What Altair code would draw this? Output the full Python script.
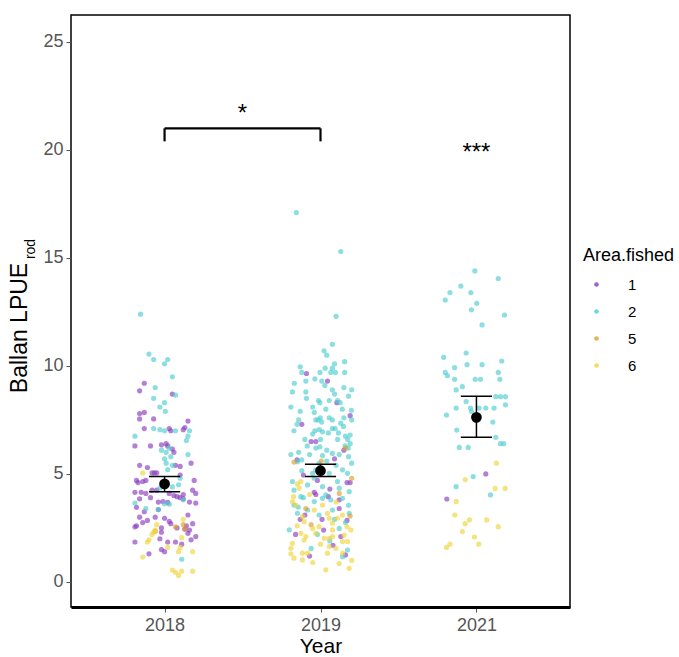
import altair as alt
import pandas as pd

years = ["2018", "2019", "2021"]
areas = ["1", "2", "5", "6"]
area_colors = ["#8a3cc0", "#4ecdd0", "#dca030", "#f0d43c"]

# (jitter, value) pairs, per year and area
y2018_a1 = [(-0.13,9.2),(-0.16,8.85),(0.05,8.7),(-0.16,7.8),(-0.13,7.85),(-0.16,7.55),(-0.07,7.55),(0.15,7.45),
            (-0.13,7.1),(0.03,7.1),(0.04,7.0),(0.12,7.05),(0.13,7.15),(-0.09,6.3),(-0.19,6.3),(-0.02,6.35),(0.01,6.4),
            (0.02,6.3),(0.05,6.15),(0.06,6.0),(0.17,5.5),(-0.16,5.4),(-0.11,5.3),(0.07,5.4),(0.1,5.35),(-0.08,5.05),
            (-0.065,5.05),(-0.05,5.05),(0.1,4.95),(-0.18,4.7),(-0.17,4.6),(-0.14,4.65),(-0.12,4.7),(0.19,4.7),(-0.19,4.15),
            (-0.15,4.15),(-0.12,4.1),(-0.08,4.25),(-0.05,4.25),(0.18,4.25),(0.2,4.1),(0.03,4.1),(0.06,4.0),(0.08,3.95),
            (0.1,3.9),(0.12,4.05),(-0.16,3.85),(-0.18,3.45),(-0.04,3.7),(-0.01,3.72),(0.02,3.68),(0.16,3.7),(0.2,3.65),
            (0.12,3.85),(-0.04,3.35),(-0.13,3.25),(-0.16,3.0),(-0.06,3.0),(0.0,2.95),(0.15,3.1),(-0.19,2.55),(-0.18,2.6),
            (-0.14,2.75),(-0.11,2.85),(-0.02,2.5),(-0.02,2.3),(0.03,2.8),(0.04,2.7),(0.08,2.5),(0.13,2.45),(0.14,2.6),
            (0.16,2.4),(0.18,2.7),(-0.03,2.0),(-0.19,1.85),(0.02,1.85),(0.07,1.85),(0.17,1.95),(0.2,2.1),(-0.02,1.5),
            (0.0,1.4),(-0.1,1.3),(0.11,1.75),(-0.09,3.9),(0.15,2.25)]
y2018_a2 = [(-0.154,12.4),(-0.1,10.55),(-0.07,10.3),(0.0,10.1),(0.02,10.3),(0.05,9.5),(-0.06,9.0),(0.07,8.65),
            (-0.07,8.5),(0.0,8.3),(-0.03,8.1),(0.005,7.9),(-0.07,7.1),(-0.03,7.05),(0.0,7.0),(0.07,7.0),(0.16,7.0),
            (-0.19,6.75),(0.15,6.75),(0.14,6.55),(0.03,6.2),(-0.02,6.1),(0.01,6.0),(0.04,5.8),(0.0,5.7),(0.01,5.5),
            (0.05,5.4),(0.1,4.8),(-0.03,4.35),(-0.19,3.65),(0.03,3.6),(0.0,3.62),(-0.04,3.35),(0.11,1.05),(0.09,4.5),
            (0.12,3.8),(-0.12,3.4),(0.05,4.4),(0.02,5.2),(0.15,5.9)]
y2018_a5 = [(0.07,2.55),(0.12,2.65),(0.13,2.45),(-0.06,2.35)]
y2018_a6 = [(-0.14,5.05),(-0.06,2.4),(-0.07,2.3),(-0.08,2.2),(-0.1,1.95),(-0.11,1.85),(0.11,2.05),(0.02,1.6),
            (0.1,1.6),(0.09,1.4),(0.18,1.4),(-0.14,1.15),(0.05,0.55),(0.07,0.45),(0.09,0.3),(0.11,0.5),(0.18,0.5),
            (0.12,2.9),(-0.05,2.65)]

y2019_a1 = [(-0.09,9.65),(0.045,9.3),(0.105,8.3),(-0.12,7.3),(0.19,7.7),(-0.06,6.5),(-0.03,6.5),(-0.15,5.65),
            (-0.11,4.95),(0.19,4.6),(0.17,4.6),(-0.04,4.15),(-0.03,4.05),(0.05,3.95),(0.12,3.8),(-0.13,2.9),(0.01,2.9),
            (0.12,3.4),(0.17,2.85),(-0.16,2.2),(0.08,1.7),(0.16,1.25),(0.13,2.1),(0.06,4.3),(-0.1,3.1),(0.02,2.4),
            (-0.07,1.2),(0.09,5.7),(0.15,6.1),(-0.02,4.7)]
y2019_a2 = [(-0.155,17.1),(0.13,15.3),(0.1,12.3),(0.076,11.0),(0.023,10.7),(0.04,10.5),(-0.13,9.96),(0.155,10.2),
            (0.09,10.1),(0.076,9.9),(0.096,9.7),(0.066,9.7),(-0.003,9.7),(-0.036,9.4),(0.008,9.3),(-0.168,9.2),
            (0.028,9.1),(-0.094,9.3),(0.155,9.7),(0.15,9.0),(-0.18,8.8),(-0.094,8.8),(0.076,8.9),(0.09,8.7),(0.18,8.6),
            (0.11,8.4),(-0.09,8.5),(-0.013,8.4),(-0.004,8.3),(0.056,8.4),(0.126,8.3),(0.034,8.0),(-0.13,7.9),(0.198,7.95),
            (-0.04,7.85),(-0.002,7.6),(-0.14,7.5),(-0.15,7.3),(-0.03,7.5),(-0.015,7.5),(0.008,7.4),(0.056,7.6),
            (0.076,7.5),(0.13,7.35),(0.15,7.6),(0.2,7.5),(-0.05,6.85),(-0.036,7.0),(-0.008,7.05),(0.013,6.95),
            (0.05,6.9),(0.076,7.1),(0.094,7.1),(0.115,6.9),(0.147,7.2),(0.16,6.75),(0.19,6.8),(0.175,6.6),(-0.085,6.3),
            (-0.03,6.2),(-0.004,6.25),(0.013,5.85),(0.04,6.1),(0.076,5.95),(0.12,5.9),(0.158,6.3),(0.178,6.2),
            (-0.12,5.65),(-0.19,8.1),(-0.17,7.0),(-0.1,6.6),(0.0,6.6),(0.19,6.4),(-0.14,6.0),(0.2,8.9),(-0.05,8.1),
            (0.14,8.0),(-0.12,9.7),(0.03,9.9),(0.18,5.8),(-0.19,5.9),(-0.07,5.9),(0.11,6.6),
            (-0.148,5.57),(-0.009,5.49),(-0.03,5.19),(0.056,5.03),(0.141,5.19),(0.173,5.03),(-0.18,4.65),(-0.04,4.8),
            (-0.083,4.49),(0.013,4.41),(0.109,4.65),(0.184,4.18),(-0.126,3.95),(-0.04,3.72),(0.013,3.87),(0.066,3.8),
            (0.141,3.87),(-0.17,3.56),(-0.143,3.46),(-0.083,3.33),(0.077,3.33),(0.184,3.18),(-0.2,2.41),(0.12,2.48),
            (0.173,1.48),(0.141,1.17),(-0.148,3.18),(0.034,4.03),(-0.009,3.1),(0.12,4.34),(-0.051,5.03),(-0.11,3.9),
            (0.09,2.9),(-0.02,2.2),(0.16,2.75),(-0.17,4.25),(0.04,5.6),(0.10,5.4),(-0.12,5.15),(0.2,5.5),(0.06,1.9),
            (-0.06,1.55),(0.18,3.55)]
y2019_a5 = [(-0.17,5.55),(0.005,5.6),(0.16,6.2),(0.2,4.8),(-0.094,3.4),(0.12,4.1),(-0.06,2.65),(0.19,3.05)]
y2019_a6 = [(-0.148,4.54),(-0.126,4.65),(-0.137,4.34),(-0.173,3.95),(-0.18,3.72),(-0.158,3.56),(-0.116,3.02),
            (-0.105,2.79),(-0.126,2.25),(-0.094,2.1),(-0.105,1.94),(-0.18,1.79),(-0.19,1.56),(-0.116,1.33),
            (-0.083,1.33),(-0.116,1.02),(0.034,0.56),(0.184,0.63),(-0.03,2.25),(0.024,2.02),(0.056,2.02),(0.077,2.1),
            (0.152,2.17),(0.141,1.87),(0.173,1.87),(0.045,3.18),(0.056,2.95),(0.077,2.72),(0.109,2.95),(0.141,3.1),
            (0.013,3.56),(-0.04,3.33),(-0.009,2.56),(-0.051,2.48),(0.045,1.33),(0.056,1.64),(0.099,1.56),(0.141,1.33),
            (0.195,2.41),(0.077,2.41),(-0.19,1.3),(-0.05,0.9),(0.12,0.85),(0.2,1.0),(-0.15,2.6),(0.0,1.75),(0.1,3.7),
            (0.17,2.55),(-0.07,4.05),(-0.17,1.1)]

y2021_a1 = [(0.06,5.0),(-0.19,3.84)]
y2021_a2 = [(-0.01,14.4),(0.14,14.05),(-0.1,13.7),(-0.17,13.4),(-0.036,13.4),(-0.2,13.05),(0.002,12.9),
            (-0.032,12.6),(0.18,12.36),(0.036,11.9),(-0.066,10.6),(-0.21,10.4),(0.162,10.23),(-0.06,10.06),
            (0.036,10.06),(-0.14,9.92),(0.14,9.7),(-0.2,9.7),(-0.186,9.55),(-0.14,9.38),(-0.008,9.38),(0.026,9.38),
            (0.15,9.38),(-0.09,9.04),(-0.13,8.89),(0.124,8.58),(0.154,8.58),(0.186,8.58),(-0.066,8.35),(0.186,8.2),
            (-0.13,8.05),(-0.038,8.05),(-0.032,7.9),(0.017,8.05),(0.06,8.05),(0.113,8.05),(-0.192,7.73),(0.105,7.4),
            (-0.126,7.03),(0.124,6.7),(0.154,6.4),(0.175,6.4),(-0.11,6.23),(-0.053,6.23),(-0.021,4.88),(-0.13,4.41),
            (0.09,4.03)]
y2021_a5 = []
y2021_a6 = [(0.128,5.5),(-0.072,4.74),(0.12,4.33),(0.184,4.33),(-0.13,3.73),(-0.139,3.1),(-0.045,2.87),
            (-0.072,2.7),(0.066,2.87),(0.14,2.56),(-0.09,2.33),(-0.013,2.08),(0.015,1.75),(-0.17,1.75),(-0.192,1.6)]

means = [4.54, 5.15, 7.62]
se_lo = [4.18, 4.88, 6.7]
se_hi = [4.88, 5.45, 8.6]

bracket_y = 21.0
bracket_tip = 20.4
sig_labels = ["*", "***"]
sig_x = [0.5, 2.0]
sig_y = [21.35, 19.55]

groups = {
    (0, "1"): y2018_a1, (0, "2"): y2018_a2, (0, "5"): y2018_a5, (0, "6"): y2018_a6,
    (1, "1"): y2019_a1, (1, "2"): y2019_a2, (1, "5"): y2019_a5, (1, "6"): y2019_a6,
    (2, "1"): y2021_a1, (2, "2"): y2021_a2, (2, "5"): y2021_a5, (2, "6"): y2021_a6,
}
rows = []
for (yi, a), pts in groups.items():
    for j, v in pts:
        rows.append({"x": yi + j, "value": v, "area": a})
points_df = pd.DataFrame(rows)

summ_df = pd.DataFrame({"x": [0, 1, 2], "mean": means, "lo": se_lo, "hi": se_hi})
summ_df["cl"] = summ_df["x"] - 0.1
summ_df["cr"] = summ_df["x"] + 0.1

br_df = pd.DataFrame({"x": [0, 0, 1], "x2": [1, 0, 1],
                      "y": [bracket_y, bracket_y, bracket_y], "y2": [bracket_y, bracket_tip, bracket_tip]})
sig_df = pd.DataFrame({"x": sig_x, "y": sig_y, "t": sig_labels})

FONT = "Liberation Sans"
label_expr = " : ".join([f"datum.value == {i} ? '{y}'" for i, y in enumerate(years[:-1])]) + f" : '{years[-1]}'"

xscale = alt.Scale(domain=[-0.6, 2.6], nice=False, zero=False)
yscale = alt.Scale(domain=[-1.16, 26.25], nice=False, zero=False)
xaxis = alt.Axis(values=[0, 1, 2], labelExpr=label_expr, title="Year", grid=False,
                 labelFontSize=18, labelColor="#555555", labelFont=FONT, labelPadding=4,
                 tickSize=5, tickColor="#555555", domainColor="black", domainWidth=3,
                 titleFontSize=21, titleFont=FONT, titleFontWeight="normal", titleColor="black", titlePadding=1)
yaxis = alt.Axis(values=[0, 5, 10, 15, 20, 25], title=None, grid=False,
                 labelFontSize=18, labelColor="#555555", labelFont=FONT, labelPadding=3,
                 tickSize=5, tickColor="#555555", domain=False)


def X(f):
    return alt.X(f, type="quantitative", scale=xscale, axis=xaxis)


def Y(f):
    return alt.Y(f, type="quantitative", scale=yscale, axis=yaxis)


pts = alt.Chart(points_df).mark_circle(size=27, opacity=0.65).encode(
    x=X("x"), y=Y("value"),
    color=alt.Color("area:N", scale=alt.Scale(domain=areas, range=area_colors),
                    legend=alt.Legend(title="Area.fished", orient="none", legendX=512, legendY=232,
                                      titleFontSize=18, titleFont=FONT, titleColor="black",
                                      titleFontWeight="normal", titlePadding=12,
                                      labelFontSize=15, labelFont=FONT, labelColor="black",
                                      symbolType="circle", symbolSize=22, symbolOpacity=0.8,
                                      symbolStrokeWidth=0, rowPadding=11, labelOffset=24,
                                      symbolOffset=6, padding=0))
)

err = alt.Chart(summ_df).mark_rule(color="black", strokeWidth=1.5).encode(x=X("x"), y=Y("lo"), y2="hi")
cap_lo = alt.Chart(summ_df).mark_rule(color="black", strokeWidth=1.5).encode(x=X("cl"), x2="cr", y=Y("lo"))
cap_hi = alt.Chart(summ_df).mark_rule(color="black", strokeWidth=1.5).encode(x=X("cl"), x2="cr", y=Y("hi"))
mean_pt = alt.Chart(summ_df).mark_circle(size=115, color="black", opacity=1).encode(x=X("x"), y=Y("mean"))

bracket = alt.Chart(br_df).mark_rule(color="black", strokeWidth=2.2).encode(
    x=X("x"), x2="x2", y=Y("y"), y2="y2")
sig = alt.Chart(sig_df).mark_text(fontSize=24, font=FONT, color="black", baseline="alphabetic",
                                  align="center").encode(x=X("x"), y=Y("y"), text="t:N")

title_df = pd.DataFrame({"t": ["Ballan LPUE"]})
ytitle = alt.Chart(title_df).mark_text(fontSize=23, font=FONT, color="black", angle=270,
                                       align="center", baseline="middle").encode(
    x=alt.value(-51), y=alt.value(313), text="t:N")
sub_df = pd.DataFrame({"t": ["rod"]})
ysub = alt.Chart(sub_df).mark_text(fontSize=14, font=FONT, color="black", angle=270,
                                   align="center", baseline="middle").encode(
    x=alt.value(-40), y=alt.value(234), text="t:N")

chart = alt.layer(pts, err, cap_lo, cap_hi, mean_pt, bracket, sig, ytitle, ysub).properties(
    width=499, height=592,
    padding={"left": 71, "top": 15, "right": 109, "bottom": 50},
    autosize=alt.AutoSizeParams(type="none"),
    background="white",
).configure_view(stroke="black", strokeWidth=1.5)

chart.save("out.html", embed_options={"renderer": "svg", "actions": False})
